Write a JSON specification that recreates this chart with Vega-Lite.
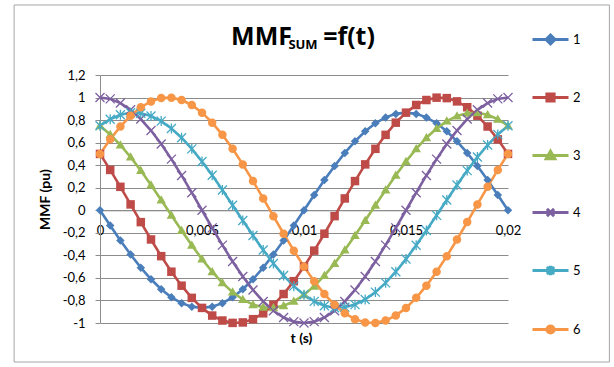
{
  "$schema": "https://vega.github.io/schema/vega-lite/v6.json",
  "width": 408,
  "height": 248,
  "autosize": "none",
  "padding": {"left": 100, "top": 75, "right": 106, "bottom": 44},
  "background": "#ffffff",
  "title": {
    "text": "MMF\u2003\u2005=f(t)",
    "subtitle": "\u2002SUM",
    "anchor": "middle",
    "frame": "group",
    "font": "Open Sans",
    "fontSize": 25,
    "fontWeight": "bold",
    "color": "#000000",
    "subtitleFont": "Open Sans",
    "subtitleFontSize": 13,
    "subtitleFontWeight": "bold",
    "subtitleColor": "#000000",
    "subtitlePadding": -11,
    "offset": -48,
    "dx": -1
  },
  "datasets": {
    "frame": [{"part": "chart area"}],
    "mmf": [
      {"t": 0, "s1": 0, "s2": 0.5, "s3": 0.75, "s4": 1, "s5": 0.75, "s6": 0.5},
      {"t": 0.0005, "s1": -0.135, "s2": 0.358, "s3": 0.673, "s4": 0.988, "s5": 0.808, "s6": 0.629},
      {"t": 0.001, "s1": -0.268, "s2": 0.208, "s3": 0.579, "s4": 0.951, "s5": 0.847, "s6": 0.743},
      {"t": 0.0015, "s1": -0.393, "s2": 0.052, "s3": 0.472, "s4": 0.891, "s5": 0.865, "s6": 0.839},
      {"t": 0.002, "s1": -0.509, "s2": -0.105, "s3": 0.352, "s4": 0.809, "s5": 0.861, "s6": 0.914},
      {"t": 0.0025, "s1": -0.612, "s2": -0.259, "s3": 0.224, "s4": 0.707, "s5": 0.837, "s6": 0.966},
      {"t": 0.003, "s1": -0.701, "s2": -0.407, "s3": 0.091, "s4": 0.588, "s5": 0.791, "s6": 0.995},
      {"t": 0.0035, "s1": -0.772, "s2": -0.545, "s3": -0.045, "s4": 0.454, "s5": 0.726, "s6": 0.999},
      {"t": 0.004, "s1": -0.824, "s2": -0.669, "s3": -0.18, "s4": 0.309, "s5": 0.644, "s6": 0.978},
      {"t": 0.0045, "s1": -0.855, "s2": -0.777, "s3": -0.31, "s4": 0.156, "s5": 0.545, "s6": 0.934},
      {"t": 0.005, "s1": -0.866, "s2": -0.866, "s3": -0.433, "s4": 0, "s5": 0.433, "s6": 0.866},
      {"t": 0.0055, "s1": -0.855, "s2": -0.934, "s3": -0.545, "s4": -0.156, "s5": 0.31, "s6": 0.777},
      {"t": 0.006, "s1": -0.824, "s2": -0.978, "s3": -0.644, "s4": -0.309, "s5": 0.18, "s6": 0.669},
      {"t": 0.0065, "s1": -0.772, "s2": -0.999, "s3": -0.726, "s4": -0.454, "s5": 0.045, "s6": 0.545},
      {"t": 0.007, "s1": -0.701, "s2": -0.995, "s3": -0.791, "s4": -0.588, "s5": -0.091, "s6": 0.407},
      {"t": 0.0075, "s1": -0.612, "s2": -0.966, "s3": -0.837, "s4": -0.707, "s5": -0.224, "s6": 0.259},
      {"t": 0.008, "s1": -0.509, "s2": -0.914, "s3": -0.861, "s4": -0.809, "s5": -0.352, "s6": 0.105},
      {"t": 0.0085, "s1": -0.393, "s2": -0.839, "s3": -0.865, "s4": -0.891, "s5": -0.472, "s6": -0.052},
      {"t": 0.009, "s1": -0.268, "s2": -0.743, "s3": -0.847, "s4": -0.951, "s5": -0.579, "s6": -0.208},
      {"t": 0.0095, "s1": -0.135, "s2": -0.629, "s3": -0.808, "s4": -0.988, "s5": -0.673, "s6": -0.358},
      {"t": 0.01, "s1": 0, "s2": -0.5, "s3": -0.75, "s4": -1, "s5": -0.75, "s6": -0.5},
      {"t": 0.0105, "s1": 0.135, "s2": -0.358, "s3": -0.673, "s4": -0.988, "s5": -0.808, "s6": -0.629},
      {"t": 0.011, "s1": 0.268, "s2": -0.208, "s3": -0.579, "s4": -0.951, "s5": -0.847, "s6": -0.743},
      {"t": 0.0115, "s1": 0.393, "s2": -0.052, "s3": -0.472, "s4": -0.891, "s5": -0.865, "s6": -0.839},
      {"t": 0.012, "s1": 0.509, "s2": 0.105, "s3": -0.352, "s4": -0.809, "s5": -0.861, "s6": -0.914},
      {"t": 0.0125, "s1": 0.612, "s2": 0.259, "s3": -0.224, "s4": -0.707, "s5": -0.837, "s6": -0.966},
      {"t": 0.013, "s1": 0.701, "s2": 0.407, "s3": -0.091, "s4": -0.588, "s5": -0.791, "s6": -0.995},
      {"t": 0.0135, "s1": 0.772, "s2": 0.545, "s3": 0.045, "s4": -0.454, "s5": -0.726, "s6": -0.999},
      {"t": 0.014, "s1": 0.824, "s2": 0.669, "s3": 0.18, "s4": -0.309, "s5": -0.644, "s6": -0.978},
      {"t": 0.0145, "s1": 0.855, "s2": 0.777, "s3": 0.31, "s4": -0.156, "s5": -0.545, "s6": -0.934},
      {"t": 0.015, "s1": 0.866, "s2": 0.866, "s3": 0.433, "s4": 0, "s5": -0.433, "s6": -0.866},
      {"t": 0.0155, "s1": 0.855, "s2": 0.934, "s3": 0.545, "s4": 0.156, "s5": -0.31, "s6": -0.777},
      {"t": 0.016, "s1": 0.824, "s2": 0.978, "s3": 0.644, "s4": 0.309, "s5": -0.18, "s6": -0.669},
      {"t": 0.0165, "s1": 0.772, "s2": 0.999, "s3": 0.726, "s4": 0.454, "s5": -0.045, "s6": -0.545},
      {"t": 0.017, "s1": 0.701, "s2": 0.995, "s3": 0.791, "s4": 0.588, "s5": 0.091, "s6": -0.407},
      {"t": 0.0175, "s1": 0.612, "s2": 0.966, "s3": 0.837, "s4": 0.707, "s5": 0.224, "s6": -0.259},
      {"t": 0.018, "s1": 0.509, "s2": 0.914, "s3": 0.861, "s4": 0.809, "s5": 0.352, "s6": -0.105},
      {"t": 0.0185, "s1": 0.393, "s2": 0.839, "s3": 0.865, "s4": 0.891, "s5": 0.472, "s6": 0.052},
      {"t": 0.019, "s1": 0.268, "s2": 0.743, "s3": 0.847, "s4": 0.951, "s5": 0.579, "s6": 0.208},
      {"t": 0.0195, "s1": 0.135, "s2": 0.629, "s3": 0.808, "s4": 0.988, "s5": 0.673, "s6": 0.358},
      {"t": 0.02, "s1": 0, "s2": 0.5, "s3": 0.75, "s4": 1, "s5": 0.75, "s6": 0.5}
    ]
  },
  "layer": [
    {
      "data": {"name": "mmf"},
      "transform": [
        {"fold": ["s1", "s2", "s3", "s4", "s5", "s6"], "as": ["series", "value"]}
      ],
      "encoding": {
        "x": {
          "field": "t",
          "type": "quantitative",
          "scale": {"domain": [0, 0.02], "nice": false, "zero": false},
          "axis": {
            "title": "t (s)",
            "values": [0, 0.005, 0.01, 0.015, 0.02],
            "labelExpr": "replace('' + datum.value, '.', ',')",
            "offset": -112.7,
            "grid": false,
            "domain": true,
            "domainColor": "#8c8c8c",
            "ticks": false,
            "labelPadding": 14,
            "labelFont": "Lato",
            "labelFontSize": 13,
            "labelColor": "#000000",
            "labelFlush": false,
            "titleFont": "Lato",
            "titleFontSize": 14,
            "titleFontWeight": "bold",
            "titleColor": "#000000",
            "titleX": 201,
            "titleY": 132,
            "titleBaseline": "alphabetic",
            "titleAlign": "center"
          }
        },
        "y": {
          "field": "value",
          "type": "quantitative",
          "scale": {"domain": [-1, 1.2], "nice": false, "zero": false},
          "axis": {
            "title": "MMF (pu)",
            "values": [-1, -0.8, -0.6, -0.4, -0.2, 0, 0.2, 0.4, 0.6, 0.8, 1, 1.2],
            "labelExpr": "replace('' + datum.value, '.', ',')",
            "grid": true,
            "gridColor": "#8c8c8c",
            "gridWidth": 1,
            "domain": true,
            "domainColor": "#8c8c8c",
            "ticks": true,
            "tickColor": "#8c8c8c",
            "tickSize": 5,
            "labelPadding": 10,
            "labelFont": "Lato",
            "labelFontSize": 13,
            "labelColor": "#000000",
            "titleFont": "Lato",
            "titleFontSize": 14,
            "titleFontWeight": "bold",
            "titleColor": "#000000",
            "titleX": -55,
            "titleY": 124,
            "titleAngle": -90,
            "titleBaseline": "middle",
            "titleAlign": "center"
          }
        },
        "color": {
          "field": "series",
          "type": "nominal",
          "scale": {
            "domain": ["s1", "s2", "s3", "s4", "s5", "s6"],
            "range": ["#4a7ebb", "#be4b48", "#98b954", "#7d60a0", "#46aac5", "#f79646"]
          },
          "legend": {
            "title": null,
            "orient": "none",
            "legendX": 431,
            "legendY": -55,
            "symbolSize": 1296,
            "symbolType": "M-1,0H1M0,-0.25L0.25,0L0,0.25L-0.25,0Z",
            "symbolStrokeWidth": 3,
            "labelFont": "Lato",
            "labelFontSize": 13,
            "labelColor": "#000000",
            "labelOffset": 3,
            "rowPadding": 28,
            "labelExpr": "replace(datum.label, 's', '')",
            "encode": {
              "symbols": {
                "update": {
                  "shape": {"signal": "{'s1':'M-1,0H1M0,-0.25L0.25,0L0,0.25L-0.25,0Z','s2':'M-1,0H1M-0.2,-0.2H0.2V0.2H-0.2Z','s3':'M-1,0H1M0,-0.24L0.24,0.18H-0.24Z','s4':'M-1,0H1M-0.2,-0.2L0.2,0.2M-0.2,0.2L0.2,-0.2','s5':'M-1,0H1M-0.2,-0.2L0.2,0.2M-0.2,0.2L0.2,-0.2M0,-0.26V0.26','s6':'M-1,0H1M0.2,0A0.2,0.2,0,1,1,-0.2,0A0.2,0.2,0,1,1,0.2,0Z'}[datum.value]"},
                  "fill": {"scale": "color", "field": "value"},
                  "stroke": {"scale": "color", "field": "value"},
                  "strokeWidth": {"value": 3},
                  "opacity": {"value": 1}
                }
              }
            }
          }
        }
      },
      "layer": [
        {
          "mark": {"type": "line", "strokeWidth": 2.6}
        },
        {
          "transform": [{"filter": {"field": "series", "equal": "s1"}}],
          "mark": {"type": "point", "filled": true, "opacity": 1, "size": 100, "shape": "M0,-0.85L0.85,0L0,0.85L-0.85,0Z"}
        },
        {
          "transform": [{"filter": {"field": "series", "equal": "s2"}}],
          "mark": {"type": "point", "filled": true, "opacity": 1, "size": 100, "shape": "M-0.85,-0.85H0.85V0.85H-0.85Z"}
        },
        {
          "transform": [{"filter": {"field": "series", "equal": "s3"}}],
          "mark": {"type": "point", "filled": true, "opacity": 1, "size": 100, "shape": "M0,-0.95L0.95,0.7H-0.95Z"}
        },
        {
          "transform": [{"filter": {"field": "series", "equal": "s4"}}],
          "mark": {"type": "point", "filled": false, "opacity": 1, "size": 100, "strokeWidth": 1.3, "shape": "M-0.9,-0.9L0.9,0.9M-0.9,0.9L0.9,-0.9"}
        },
        {
          "transform": [{"filter": {"field": "series", "equal": "s5"}}],
          "mark": {"type": "point", "filled": false, "opacity": 1, "size": 100, "strokeWidth": 1.3, "shape": "M-0.9,-0.9L0.9,0.9M-0.9,0.9L0.9,-0.9M0,-1L0,1"}
        },
        {
          "transform": [{"filter": {"field": "series", "equal": "s6"}}],
          "mark": {"type": "point", "filled": true, "opacity": 1, "size": 100, "shape": "M0.85,0A0.85,0.85,0,1,1,-0.85,0A0.85,0.85,0,1,1,0.85,0Z"}
        }
      ]
    },
    {
      "data": {"name": "frame"},
      "mark": {"type": "rect", "fill": "transparent", "stroke": "#a6a6a6", "strokeWidth": 1},
      "encoding": {
        "x": {
          "datum": -0.00421,
          "type": "quantitative",
          "scale": {"domain": [0, 0.02], "nice": false, "zero": false},
          "axis": {
            "title": "t (s)",
            "values": [0, 0.005, 0.01, 0.015, 0.02],
            "labelExpr": "replace('' + datum.value, '.', ',')",
            "offset": -112.7,
            "grid": false,
            "domain": true,
            "domainColor": "#8c8c8c",
            "ticks": false,
            "labelPadding": 14,
            "labelFont": "Lato",
            "labelFontSize": 13,
            "labelColor": "#000000",
            "labelFlush": false,
            "titleFont": "Lato",
            "titleFontSize": 14,
            "titleFontWeight": "bold",
            "titleColor": "#000000",
            "titleX": 201,
            "titleY": 132,
            "titleBaseline": "alphabetic",
            "titleAlign": "center"
          }
        },
        "x2": {"datum": 0.02497},
        "y": {
          "datum": 1.821,
          "type": "quantitative",
          "scale": {"domain": [-1, 1.2], "nice": false, "zero": false},
          "axis": {
            "title": "MMF (pu)",
            "values": [-1, -0.8, -0.6, -0.4, -0.2, 0, 0.2, 0.4, 0.6, 0.8, 1, 1.2],
            "labelExpr": "replace('' + datum.value, '.', ',')",
            "grid": true,
            "gridColor": "#8c8c8c",
            "gridWidth": 1,
            "domain": true,
            "domainColor": "#8c8c8c",
            "ticks": true,
            "tickColor": "#8c8c8c",
            "tickSize": 5,
            "labelPadding": 10,
            "labelFont": "Lato",
            "labelFontSize": 13,
            "labelColor": "#000000",
            "titleFont": "Lato",
            "titleFontSize": 14,
            "titleFontWeight": "bold",
            "titleColor": "#000000",
            "titleX": -55,
            "titleY": 124,
            "titleAngle": -90,
            "titleBaseline": "middle",
            "titleAlign": "center"
          }
        },
        "y2": {"datum": -1.346}
      }
    }
  ],
  "config": {
    "view": {"stroke": null},
    "font": "Lato"
  }
}
